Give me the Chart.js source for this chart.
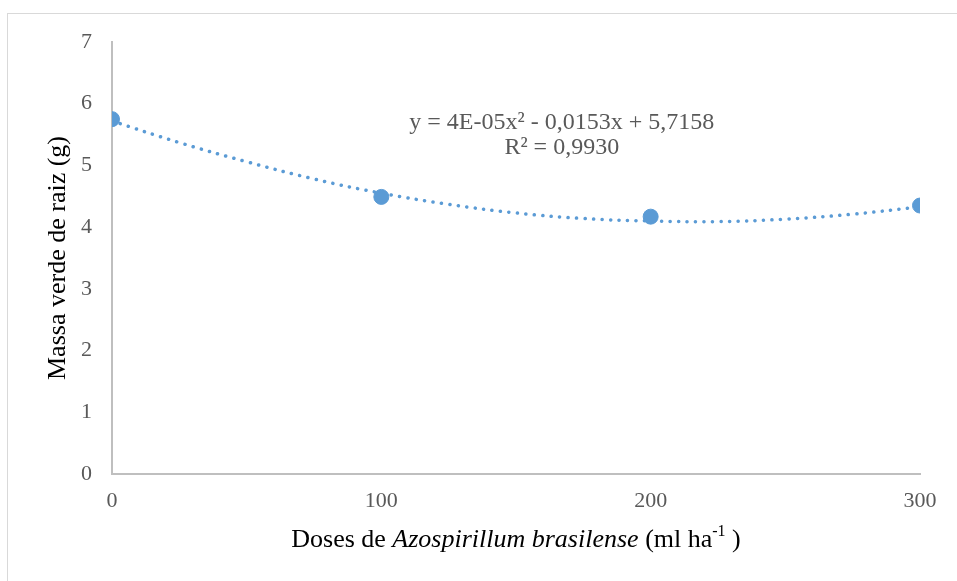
<!DOCTYPE html>
<html>
<head>
<meta charset="utf-8">
<script src="https://cdn.jsdelivr.net/npm/chart.js@4.4.1/dist/chart.umd.min.js"></script>
<style>
  html, body { margin: 0; padding: 0; background: #fff; overflow: hidden; }
  #wrap { position: relative; width: 957px; height: 581px; overflow: hidden; }
  #frame { position: absolute; left: 7px; top: 13px; width: 1000px; height: 600px; border: 1px solid #d9d9d9; box-sizing: border-box; }
  #myChart { position: absolute; left: 0; top: 0; }
</style>
</head>
<body>
<div id="wrap">
  <div id="frame"></div>
  <canvas id="myChart" width="957" height="581"></canvas>
</div>
<script>
// valores medidos
const doses = [0, 100, 200, 300]
const massa = [5.75, 4.49, 4.17, 4.35]

// linha de tendencia
const tendX = [0, 25, 50, 75, 100, 125, 150, 175, 200, 225, 250, 275, 300]
const tendY = [5.72, 5.37, 5.06, 4.78, 4.55, 4.37, 4.23, 4.14, 4.10, 4.09, 4.13, 4.21, 4.33]

const yTicks = [0, 1, 2, 3, 4, 5, 6, 7]
const equacao = ['y = 4E-05x\u00b2 - 0,0153x + 5,7158', 'R\u00b2 = 0,9930']

const azul = '#5B9BD5'
const serif = "'Liberation Serif', 'Times New Roman', serif"

const pontos = doses.map((d, i) => ({x: d, y: massa[i]}))
const tendencia = tendX.map((d, i) => ({x: d, y: tendY[i]}))

// texto da equacao e titulo do eixo x (com italico e sobrescrito)
const textos = {
    id: 'textos',
    afterDraw(chart) {
        const ctx = chart.ctx
        const xs = chart.scales.x
        const ys = chart.scales.y
        ctx.save()
        ctx.textBaseline = 'middle'
        ctx.textAlign = 'center'
        ctx.fillStyle = '#595959'
        ctx.font = '24px ' + serif
        let cx = xs.getPixelForValue(167)
        let cy = ys.getPixelForValue(5.7)
        ctx.fillText(equacao[0], cx, cy)
        ctx.fillText(equacao[1], cx, cy + 25)

        const partes = [
            ['Doses de ', '26px ' + serif, 0],
            ['Azospirillum brasilense', 'italic 26px ' + serif, 0],
            [' (ml ha', '26px ' + serif, 0],
            ['-1', '16px ' + serif, -8],
            [' )', '26px ' + serif, 0]
        ]
        let total = 0
        partes.forEach(p => { ctx.font = p[1]; total += ctx.measureText(p[0]).width })
        let x = (chart.chartArea.left + chart.chartArea.right) / 2 - total / 2
        const y = 540
        ctx.textAlign = 'left'
        ctx.fillStyle = '#000'
        partes.forEach(p => {
            ctx.font = p[1]
            ctx.fillText(p[0], x, y + p[2])
            x += ctx.measureText(p[0]).width
        })
        ctx.restore()
    }
}

let ctx = document.getElementById('myChart')
let myChart = new Chart(ctx, {
    type: 'scatter',
    data: {
        datasets: [{
            label: 'Massa verde de raiz',
            data: pontos,
            backgroundColor: azul,
            borderColor: azul,
            pointRadius: 7.5,
            pointHoverRadius: 7.5,
            order: 1
        }, {
            label: 'Tendencia',
            data: tendencia,
            showLine: true,
            borderColor: azul,
            borderWidth: 3.5,
            borderDash: [0.1, 8.4],
            borderCapStyle: 'round',
            pointRadius: 0,
            tension: 0.4,
            fill: false,
            order: 2
        }]
    },
    options: {
        responsive: false,
        animation: false,
        layout: { padding: { left: 0, top: 42, right: 37, bottom: 0 } },
        plugins: {
            legend: { display: false },
            tooltip: { enabled: false }
        },
        scales: {
            x: {
                type: 'linear',
                min: 0,
                max: 300,
                ticks: { stepSize: 100, color: '#595959', font: { family: serif, size: 22 }, padding: 14 },
                grid: { display: false, drawTicks: false },
                border: { display: true, color: '#bfbfbf', width: 2 },
                afterFit: scale => { scale.height = 107 }
            },
            y: {
                min: 0,
                max: 7,
                afterBuildTicks: scale => { scale.ticks = yTicks.map(v => ({value: v})) },
                ticks: { color: '#595959', font: { family: serif, size: 22 }, padding: 20 },
                grid: { display: false, drawTicks: false },
                border: { display: true, color: '#bfbfbf', width: 2 },
                title: {
                    display: true,
                    text: 'Massa verde de raiz (g)',
                    color: '#000',
                    font: { family: serif, size: 26 },
                    padding: { top: 43, bottom: 0 }
                },
                afterFit: scale => { scale.width = 112 }
            }
        }
    },
    plugins: [textos]
})
</script>
</body>
</html>
